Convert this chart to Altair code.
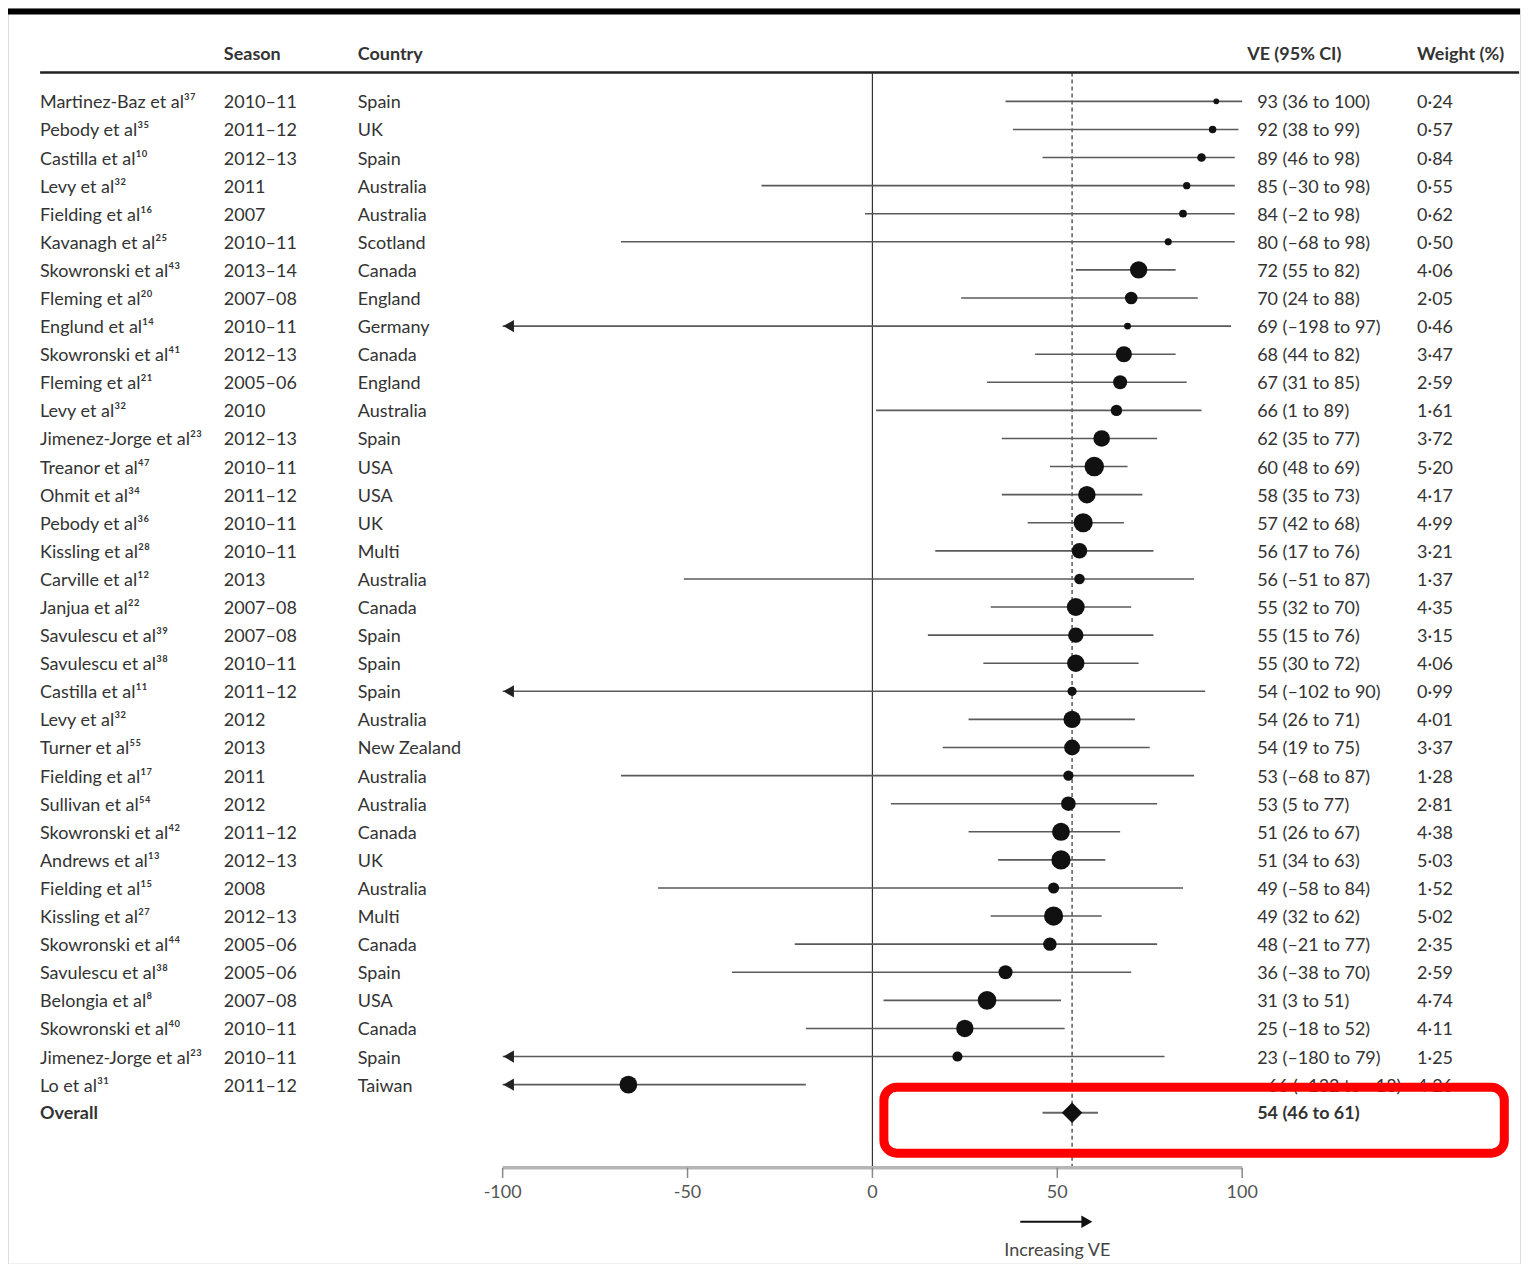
import altair as alt
import pandas as pd

# ---------------- data ----------------
names = [
    "Martinez-Baz et al³⁷", "Pebody et al³⁵", "Castilla et al¹⁰", "Levy et al³²",
    "Fielding et al¹⁶", "Kavanagh et al²⁵", "Skowronski et al⁴³", "Fleming et al²⁰",
    "Englund et al¹⁴", "Skowronski et al⁴¹", "Fleming et al²¹", "Levy et al³²",
    "Jimenez-Jorge et al²³", "Treanor et al⁴⁷", "Ohmit et al³⁴", "Pebody et al³⁶",
    "Kissling et al²⁸", "Carville et al¹²", "Janjua et al²²", "Savulescu et al³⁹",
    "Savulescu et al³⁸", "Castilla et al¹¹", "Levy et al³²", "Turner et al⁵⁵",
    "Fielding et al¹⁷", "Sullivan et al⁵⁴", "Skowronski et al⁴²", "Andrews et al¹³",
    "Fielding et al¹⁵", "Kissling et al²⁷", "Skowronski et al⁴⁴", "Savulescu et al³⁸",
    "Belongia et al⁸", "Skowronski et al⁴⁰", "Jimenez-Jorge et al²³", "Lo et al³¹",
]
seasons = [
    "2010–11", "2011–12", "2012–13", "2011", "2007", "2010–11", "2013–14", "2007–08",
    "2010–11", "2012–13", "2005–06", "2010", "2012–13", "2010–11", "2011–12", "2010–11",
    "2010–11", "2013", "2007–08", "2007–08", "2010–11", "2011–12", "2012", "2013",
    "2011", "2012", "2011–12", "2012–13", "2008", "2012–13", "2005–06", "2005–06",
    "2007–08", "2010–11", "2010–11", "2011–12",
]
countries = [
    "Spain", "UK", "Spain", "Australia", "Australia", "Scotland", "Canada", "England",
    "Germany", "Canada", "England", "Australia", "Spain", "USA", "USA", "UK",
    "Multi", "Australia", "Canada", "Spain", "Spain", "Spain", "Australia", "New Zealand",
    "Australia", "Australia", "Canada", "UK", "Australia", "Multi", "Canada", "Spain",
    "USA", "Canada", "Spain", "Taiwan",
]
ve = [93, 92, 89, 85, 84, 80, 72, 70, 69, 68, 67, 66, 62, 60, 58, 57,
      56, 56, 55, 55, 55, 54, 54, 54, 53, 53, 51, 51, 49, 49, 48, 36,
      31, 25, 23, -66]
ci_low = [36, 38, 46, -30, -2, -68, 55, 24, -198, 44, 31, 1, 35, 48, 35, 42,
          17, -51, 32, 15, 30, -102, 26, 19, -68, 5, 26, 34, -58, 32, -21, -38,
          3, -18, -180, -132]
ci_high = [100, 99, 98, 98, 98, 98, 82, 88, 97, 82, 85, 89, 77, 69, 73, 68,
           76, 87, 70, 76, 72, 90, 71, 75, 87, 77, 67, 63, 84, 62, 77, 70,
           51, 52, 79, -18]
weights = [0.24, 0.57, 0.84, 0.55, 0.62, 0.50, 4.06, 2.05, 0.46, 3.47, 2.59, 1.61,
           3.72, 5.20, 4.17, 4.99, 3.21, 1.37, 4.35, 3.15, 4.06, 0.99, 4.01, 3.37,
           1.28, 2.81, 4.38, 5.03, 1.52, 5.02, 2.35, 2.59, 4.74, 4.11, 1.25, 4.26]

overall_label = "Overall"
overall_ve, overall_low, overall_high = 54, 46, 61
axis_ticks = [-100, -50, 0, 50, 100]
headers = ["Season", "Country", "VE (95% CI)", "Weight (%)"]
arrow_label = "Increasing VE"
arrow_span = [40, 58]

# ---------------- helpers ----------------
def num(v):
    return f"–{abs(v)}" if v < 0 else f"{v}"

def ve_text(v, lo, hi):
    return f"{num(v)} ({num(lo)} to {num(hi)})"

W, H = 1513, 1256
FONT = "Lato"
FS = 18
TXT = "#333333"

xs = alt.Scale(domain=[-233.78, 175.14], nice=False, zero=False)
ys = alt.Scale(domain=[-3.308, 41.37], nice=False, zero=False, reverse=True)

n = len(names)
OVERALL_ROW = n
HEADER_ROW = -1.67
HEADER_LINE = -1.03
AXIS_ROW = 37.96

df = pd.DataFrame({
    "row": list(range(n)),
    "name": names,
    "season": seasons,
    "country": countries,
    "ve": ve,
    "lo": ci_low,
    "hi": ci_high,
    "w": weights,
})
df["lo_c"] = df["lo"].clip(lower=-100)
df["vetxt"] = [ve_text(a, b, c) for a, b, c in zip(ve, ci_low, ci_high)]
df["wtxt"] = [f"{w:.2f}".replace(".", "·") for w in weights]
trunc = df[df["lo"] < -100]

ov = pd.DataFrame({
    "row": [OVERALL_ROW], "name": [overall_label], "ve": [overall_ve],
    "lo": [overall_low], "hi": [overall_high],
    "vetxt": [ve_text(overall_ve, overall_low, overall_high)],
})

X = lambda f: alt.X(f, scale=xs, axis=None)
Y = lambda f: alt.Y(f, scale=ys, axis=None)

layers = []

# header line
hl = pd.DataFrame({"x1": [-225.1], "x2": [174.9], "y": [HEADER_LINE]})
layers.append(alt.Chart(hl).mark_rule(color="#222", strokeWidth=2.5).encode(
    x=X("x1:Q"), x2="x2:Q", y=Y("y:Q")))

# reference lines: no effect (0) and pooled estimate (dashed)
vl = pd.DataFrame({"x": [0], "y1": [HEADER_LINE], "y2": [AXIS_ROW]})
layers.append(alt.Chart(vl).mark_rule(color="#333", strokeWidth=1.2).encode(
    x=X("x:Q"), y=Y("y1:Q"), y2="y2:Q"))
dl = pd.DataFrame({"x": [overall_ve], "y1": [HEADER_LINE], "y2": [AXIS_ROW]})
layers.append(alt.Chart(dl).mark_rule(color="#333", strokeWidth=1.2, strokeDash=[4, 3]).encode(
    x=X("x:Q"), y=Y("y1:Q"), y2="y2:Q"))

# confidence intervals
layers.append(alt.Chart(df).mark_rule(color="#5a5a5a", strokeWidth=1.6).encode(
    x=X("lo_c:Q"), x2="hi:Q", y=Y("row:Q")))
layers.append(alt.Chart(trunc).mark_point(shape="triangle-left", filled=True, color="#222",
                                          opacity=1, size=150, xOffset=6).encode(
    x=X("lo_c:Q"), y=Y("row:Q")))

# point estimates sized by weight
layers.append(alt.Chart(df).mark_circle(color="#111", opacity=1).encode(
    x=X("ve:Q"), y=Y("row:Q"),
    size=alt.Size("w:Q", scale=alt.Scale(domain=[0, 5.2], range=[16, 380]), legend=None)))

# overall
layers.append(alt.Chart(ov).mark_rule(color="#666", strokeWidth=2).encode(
    x=X("lo:Q"), x2="hi:Q", y=Y("row:Q")))
layers.append(alt.Chart(ov).mark_point(shape="diamond", filled=True, color="#111",
                                       opacity=1, size=420).encode(
    x=X("ve:Q"), y=Y("row:Q")))

# header texts
hdr_x = [216, 350, 1240, 1410]
hdf = pd.DataFrame({"row": [HEADER_ROW]})
for label, px in zip(headers, hdr_x):
    layers.append(alt.Chart(hdf).mark_text(
        text=label, align="left", baseline="middle", font=FONT, fontSize=FS,
        fontWeight="bold", color="#333", dy=1).encode(x=alt.value(px), y=Y("row:Q")))

# table columns
for field, px in [("name", 32), ("season", 216), ("country", 350), ("vetxt", 1250), ("wtxt", 1410)]:
    layers.append(alt.Chart(df).mark_text(
        align="left", baseline="middle", font=FONT, fontSize=FS, color=TXT, dy=2).encode(
        x=alt.value(px), y=Y("row:Q"), text=f"{field}:N"))
for field, px in [("name", 32), ("vetxt", 1250)]:
    layers.append(alt.Chart(ov).mark_text(
        align="left", baseline="middle", font=FONT, fontSize=FS, fontWeight="bold",
        color=TXT, dy=1).encode(x=alt.value(px), y=Y("row:Q"), text=f"{field}:N"))

# x axis drawn through the scale
ax = pd.DataFrame({"x1": [min(axis_ticks)], "x2": [max(axis_ticks)], "y": [AXIS_ROW]})
layers.append(alt.Chart(ax).mark_rule(color="#b5b5b5", strokeWidth=3.5).encode(
    x=X("x1:Q"), x2="x2:Q", y=Y("y:Q")))
tk = pd.DataFrame({"t": axis_ticks, "lab": [str(t) for t in axis_ticks],
                   "y1": [AXIS_ROW] * len(axis_ticks),
                   "y2": [AXIS_ROW + 0.36] * len(axis_ticks),
                   "ly": [AXIS_ROW + 0.9] * len(axis_ticks)})
layers.append(alt.Chart(tk).mark_rule(color="#888", strokeWidth=1.5).encode(
    x=X("t:Q"), y=Y("y1:Q"), y2="y2:Q"))
layers.append(alt.Chart(tk).mark_text(
    align="center", baseline="middle", font=FONT, fontSize=FS, color="#555").encode(
    x=X("t:Q"), y=Y("ly:Q"), text="lab:N"))

# "Increasing VE" arrow
ar = pd.DataFrame({"x1": [arrow_span[0]], "x2": [arrow_span[1]], "y": [AXIS_ROW + 1.92]})
layers.append(alt.Chart(ar).mark_rule(color="#111", strokeWidth=2).encode(
    x=X("x1:Q"), x2="x2:Q", y=Y("y:Q")))
layers.append(alt.Chart(ar).mark_point(shape="triangle-right", filled=True, color="#111",
                                       opacity=1, size=160).encode(
    x=X("x2:Q"), y=Y("y:Q")))
at = pd.DataFrame({"x": [(arrow_span[0] + arrow_span[1]) / 2 + 1], "y": [AXIS_ROW + 2.95]})
layers.append(alt.Chart(at).mark_text(
    text=arrow_label, align="center", baseline="middle", font=FONT, fontSize=FS,
    color="#444").encode(x=X("x:Q"), y=Y("y:Q")))

# red highlight box around the pooled estimate
rb = pd.DataFrame({"x1": [3.1], "x2": [170.9], "y1": [OVERALL_ROW - 0.91], "y2": [OVERALL_ROW + 1.44]})
layers.append(alt.Chart(rb).mark_rect(fillOpacity=0, stroke="#ff0000", strokeWidth=9,
                                      cornerRadius=13).encode(
    x=X("x1:Q"), x2="x2:Q", y=Y("y1:Q"), y2="y2:Q"))

# dark strip along the top of the slide
band = pd.DataFrame({"a": [0]})
layers.append(alt.Chart(band).mark_rect(color="#000").encode(
    x=alt.value(0), x2=alt.value(W), y=alt.value(0), y2=alt.value(6)))

chart = alt.layer(*layers).properties(width=W, height=H, padding=0).configure_view(
    stroke=None).configure(background="white")

chart.save("out.html", embed_options={"renderer": "svg", "actions": False})
